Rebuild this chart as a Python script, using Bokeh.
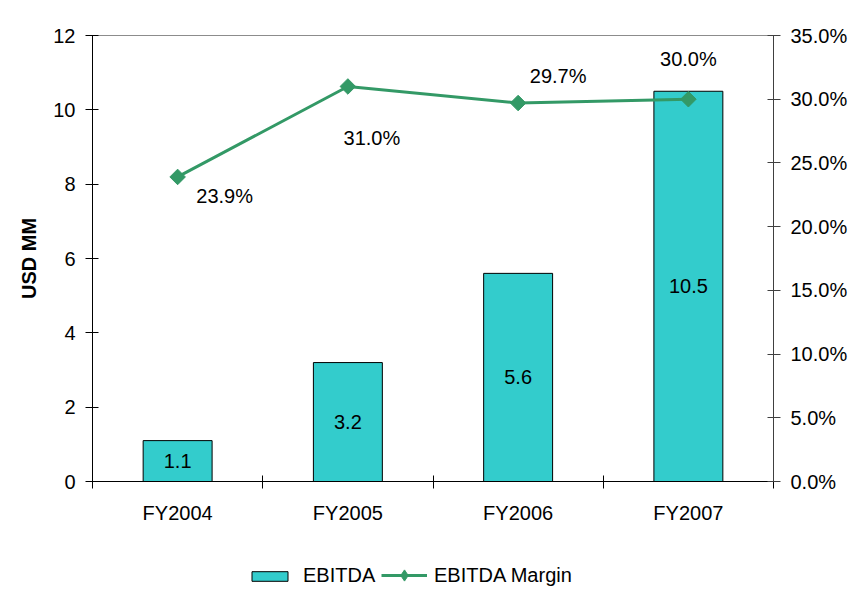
from bokeh.plotting import figure
from bokeh.models import (ColumnDataSource, LinearAxis, Range1d, FixedTicker,
                          NumeralTickFormatter, Legend, LegendItem)
from bokeh.layouts import column
from bokeh.core.properties import value
from bokeh.embed import file_html
from bokeh.resources import INLINE
import math

# ---- data ----
categories = ["FY2004", "FY2005", "FY2006", "FY2007"]
ebitda = [1.1, 3.2, 5.6, 10.5]
margin_pct = [23.9, 31.0, 29.7, 30.0]
ebitda_labels = ["1.1", "3.2", "5.6", "10.5"]
margin_labels = ["23.9%", "31.0%", "29.7%", "30.0%"]
left_ticks = [0, 2, 4, 6, 8, 10, 12]
right_ticks = [0, 5, 10, 15, 20, 25, 30, 35]
series_names = ["EBITDA", "EBITDA Margin"]

# label offsets (screen px) for margin labels, mimicking Excel placement
margin_label_dx = [47, 24, 40, 0]
margin_label_dy = [19, 52, -27, -40]

FONT = "Liberation Sans"
FS = "20px"
BAR_COLOR = "#33CCCC"
LINE_COLOR = "#339966"

xpos = [i + 0.5 for i in range(len(categories))]

src = ColumnDataSource(dict(
    x=xpos, ebitda=ebitda, half=[v / 2 for v in ebitda],
    margin=[m / 100 for m in margin_pct],
    elab=ebitda_labels, mlab=margin_labels,
    dx=margin_label_dx, dy=margin_label_dy,
))

W = 851
p = figure(width=W, height=545, output_backend="svg", toolbar_location=None,
           x_range=Range1d(0, len(categories)), y_range=Range1d(0, 12),
           min_border_left=92, min_border_right=78, min_border_top=35,
           min_border_bottom=64)
p.extra_y_ranges = {"pct": Range1d(0, 0.35)}
p.xgrid.grid_line_color = None
p.ygrid.grid_line_color = None
p.outline_line_color = "#8c8c8c"
p.background_fill_color = "white"
p.border_fill_color = "white"

bars = p.vbar(x="x", top="ebitda", width=0.405, source=src,
              fill_color=BAR_COLOR, line_color="black", line_width=1)
p.text(x="x", y="half", text="elab", source=src, text_align="center",
       text_baseline="middle", text_font=value(FONT), text_font_size=FS,
       text_color="black")

ln = p.line(x="x", y="margin", source=src, y_range_name="pct",
            line_color=LINE_COLOR, line_width=3)
mk = p.scatter(x="x", y="margin", source=src, y_range_name="pct",
               marker="square", size=11, angle=math.pi / 4,
               fill_color=LINE_COLOR, line_color=LINE_COLOR)
p.text(x="x", y="margin", text="mlab", source=src, y_range_name="pct",
       x_offset="dx", y_offset="dy", text_align="center",
       text_baseline="middle", text_font=value(FONT), text_font_size=FS,
       text_color="black")

# left axis
ya = p.yaxis[0]
ya.ticker = FixedTicker(ticks=left_ticks)
ya.major_tick_in = 6
ya.major_tick_out = 7
ya.minor_tick_line_color = None
ya.axis_line_color = "black"
ya.major_tick_line_color = "black"
ya.major_label_text_font = FONT
ya.major_label_text_font_size = FS
ya.major_label_text_color = "black"
ya.major_label_standoff = 10
ya.axis_label = "USD MM"
ya.axis_label_text_font = FONT
ya.axis_label_text_font_size = FS
ya.axis_label_text_font_style = "bold"
ya.axis_label_text_color = "black"
ya.axis_label_standoff = 10

# right axis
ra = LinearAxis(y_range_name="pct",
                ticker=FixedTicker(ticks=[t / 100 for t in right_ticks]),
                formatter=NumeralTickFormatter(format="0.0%"))
ra.major_tick_in = 6
ra.major_tick_out = 7
ra.minor_tick_line_color = None
ra.axis_line_color = "#404040"
ra.major_tick_line_color = "#404040"
ra.major_label_text_font = FONT
ra.major_label_text_font_size = FS
ra.major_label_text_color = "black"
ra.major_label_standoff = 10
p.add_layout(ra, "right")

# bottom axis
xa = p.xaxis[0]
xa.ticker = FixedTicker(ticks=xpos, minor_ticks=list(range(len(categories) + 1)))
xa.major_label_overrides = {x: c for x, c in zip(xpos, categories)}
xa.major_tick_in = 0
xa.major_tick_out = 0
xa.minor_tick_in = 6
xa.minor_tick_out = 7
xa.minor_tick_line_color = "black"
xa.axis_line_color = "black"
xa.major_label_text_font = FONT
xa.major_label_text_font_size = FS
xa.major_label_text_color = "black"
xa.major_label_standoff = 13

# ---- legend strip (separate figure below the chart) ----
lg = figure(width=W, height=44, output_backend="svg", toolbar_location=None,
            x_range=Range1d(0, 1), y_range=Range1d(0, 1),
            min_border_left=0, min_border_right=0, min_border_top=0,
            min_border_bottom=0)
lg.axis.visible = False
lg.xgrid.grid_line_color = None
lg.ygrid.grid_line_color = None
lg.outline_line_color = None
lg.border_fill_color = "white"
nan = float("nan")
placeholder = ColumnDataSource(dict(x=[nan], y=[nan]))
lbar = lg.vbar(x="x", top="y", width=0.1, source=placeholder,
               fill_color=BAR_COLOR, line_color="black", line_width=1)
lline = lg.line(x="x", y="y", source=placeholder, line_color=LINE_COLOR,
                line_width=3)
lmk = lg.scatter(x="x", y="y", source=placeholder, marker="diamond", size=11,
                 fill_color=LINE_COLOR, line_color=LINE_COLOR)

common = dict(orientation="horizontal", label_text_font=FONT,
              label_text_font_size=FS, label_text_color="black",
              padding=0, margin=0, border_line_color=None,
              background_fill_alpha=0, label_height=20)
legend1 = Legend(items=[LegendItem(label=series_names[0], renderers=[lbar])],
                 location=(155, 2), glyph_width=45, glyph_height=12,
                 label_standoff=11, **common)
legend2 = Legend(items=[LegendItem(label=series_names[1], renderers=[lline, lmk])],
                 location=(289, 0), glyph_width=46, glyph_height=28,
                 label_standoff=7, **common)
lg.add_layout(legend1, "center")
lg.add_layout(legend2, "center")

layout = column(p, lg, spacing=0)
open("out.html", "w").write(file_html(layout, INLINE))
